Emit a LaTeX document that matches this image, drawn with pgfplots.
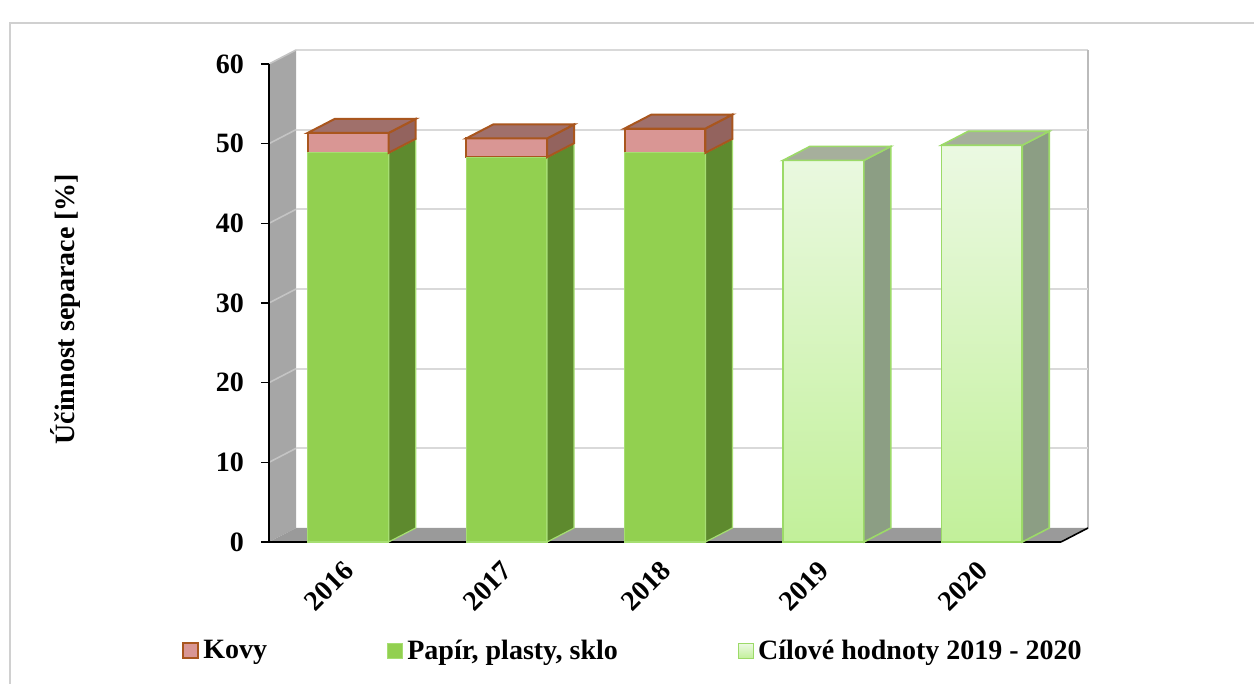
\documentclass[border=0pt]{standalone}
\usepackage{fontspec}
\setmainfont{Liberation Serif}
\usepackage{pgfplots}
\pgfplotsset{compat=1.18}
\definecolor{greenF}{HTML}{92D050}
\definecolor{greenS}{HTML}{5E8A2E}
\definecolor{greenE}{HTML}{A6DE72}
\definecolor{pinkF}{HTML}{D99694}
\definecolor{pinkS}{HTML}{93635E}
\definecolor{pinkT}{HTML}{A0706B}
\definecolor{brownE}{HTML}{A9561E}
\definecolor{tgtTop}{HTML}{EBF9E2}
\definecolor{tgtBot}{HTML}{C2F09A}
\definecolor{tgtE}{HTML}{9CDA68}
\definecolor{tgtS}{HTML}{8C9E84}
\definecolor{tgtT}{HTML}{A6AF9C}
\definecolor{wallC}{HTML}{A6A6A6}
\definecolor{floorC}{HTML}{9A9A9A}
\definecolor{gridC}{HTML}{D9D9D9}
\definecolor{sgridC}{HTML}{C4C4C4}
\definecolor{borderC}{HTML}{D0D0D0}
\newcommand{\cf}{\fontsize{14}{16.8}\selectfont\bfseries}
\begin{document}
\begin{tikzpicture}
\useasboundingbox (0,0) rectangle (627pt,342pt);
\draw[color=borderC, line width=1pt] (5pt,-20pt) rectangle (660pt,330.5pt);
\pgfplotsset{base/.style={at={(134.5pt,71pt)}, anchor=south west, scale only axis,
  width=396pt, height=239pt, xmin=-0.5, xmax=4.5, ymin=0, ymax=60, clip=false}}
% ---------- background: walls, floor, grid
\begin{axis}[base, hide axis]
\addplot[fill=white, draw=none] coordinates {(-0.3295,1.757) (4.6705,1.757) (4.6705,61.757) (-0.3295,61.757)} -- cycle;
\addplot[fill=wallC, draw=none] coordinates {(-0.5,0) (-0.3295,1.757) (-0.3295,61.757) (-0.5,60)} -- cycle;
\addplot[fill=floorC, draw=none] coordinates {(-0.5,0) (4.5,0) (4.6705,1.757) (-0.3295,1.757)} -- cycle;
\addplot[draw=gridC, line width=0.9pt] coordinates {(-0.3295,61.757) (4.6705,61.757)};
\addplot[draw=borderC!90!black, line width=1.4pt] coordinates {(4.6705,1.757) (4.6705,61.757)};
\addplot[draw=gridC, line width=0.9pt] coordinates {(-0.3295,11.757) (4.6705,11.757)};
\addplot[draw=gridC, line width=0.9pt] coordinates {(-0.3295,21.757) (4.6705,21.757)};
\addplot[draw=gridC, line width=0.9pt] coordinates {(-0.3295,31.757) (4.6705,31.757)};
\addplot[draw=gridC, line width=0.9pt] coordinates {(-0.3295,41.757) (4.6705,41.757)};
\addplot[draw=gridC, line width=0.9pt] coordinates {(-0.3295,51.757) (4.6705,51.757)};
\addplot[draw=sgridC, line width=0.8pt] coordinates {(-0.5,10) (-0.3295,11.757)};
\addplot[draw=sgridC, line width=0.8pt] coordinates {(-0.5,20) (-0.3295,21.757)};
\addplot[draw=sgridC, line width=0.8pt] coordinates {(-0.5,30) (-0.3295,31.757)};
\addplot[draw=sgridC, line width=0.8pt] coordinates {(-0.5,40) (-0.3295,41.757)};
\addplot[draw=sgridC, line width=0.8pt] coordinates {(-0.5,50) (-0.3295,51.757)};
\addplot[draw=sgridC, line width=0.8pt] coordinates {(-0.5,60) (-0.3295,61.757)};
\end{axis}
% ---------- main axis: front faces of the bars
\begin{axis}[base,
  ybar stacked, bar width=0.511,
  axis lines*=left, axis line style={black, line width=0.8pt},
  tick align=outside, tick style={black, line width=0.8pt}, major tick length=4pt,
  ytick={0,10,...,60},
  xtick={0,1,2,3,4}, xticklabels={2016,2017,2018,2019,2020},
  x tick style={draw=none},
  extra x ticks={-0.5,0.5,1.5,2.5,3.5,4.5}, extra x tick labels={},
  extra x tick style={tick style={black, line width=0.8pt}, major tick length=4pt},
  /pgf/number format/assume math mode=true,
  tick label style={font=\cf},
  yticklabel style={xshift=-5pt},
  xticklabel style={rotate=45, anchor=east, xshift=-2pt, yshift=-6pt},
  ylabel={Účinnost separace [\%]},
  ylabel style={font=\cf, at={(axis description cs:-0.2576,0.487)}, anchor=center},
  legend image code/.code={\draw[#1] (0pt,-3.75pt) rectangle (7.5pt,3.75pt);},
  legend style={at={(axis description cs:0.4609,-0.228)}, anchor=center, draw=none, fill=none,
    legend columns=3, font=\cf, /tikz/every even column/.append style={column sep=58pt}},
]
\addlegendimage{fill=pinkF, draw=brownE, line width=1pt}
\addlegendentry{Kovy}
\addlegendimage{fill=greenF, draw=greenE, line width=0.6pt}
\addlegendentry{Papír, plasty, sklo}
\addlegendimage{top color=tgtTop, bottom color=tgtBot, draw=tgtE, line width=0.6pt}
\addlegendentry{Cílové hodnoty 2019 - 2020}
% Papír, plasty, sklo
\addplot[forget plot, fill=greenF, draw=greenE, line width=0.6pt] coordinates {(0,48.85) (1,48.3) (2,48.85) (3,0) (4,0)};
% Kovy
\addplot[forget plot, fill=pinkF, draw=brownE, line width=1pt] coordinates {(0,2.5) (1,2.35) (2,3.05) (3,0) (4,0)};
% Cílové hodnoty 2019 - 2020
\addplot[forget plot, top color=tgtTop, bottom color=tgtBot, draw=tgtE, line width=0.8pt] coordinates {(0,0) (1,0) (2,0) (3,47.9) (4,49.8)};
\end{axis}
% ---------- 3D side and top faces
\begin{axis}[base, hide axis]
\addplot[fill=greenS, draw=greenE, line width=0.6pt] coordinates {(0.2555,0) (0.426,1.757) (0.426,50.607) (0.2555,48.85)} -- cycle;
\addplot[fill=greenS, draw=greenE, line width=0.6pt] coordinates {(1.2555,0) (1.426,1.757) (1.426,50.057) (1.2555,48.3)} -- cycle;
\addplot[fill=greenS, draw=greenE, line width=0.6pt] coordinates {(2.2555,0) (2.426,1.757) (2.426,50.607) (2.2555,48.85)} -- cycle;
\addplot[fill=pinkS, draw=brownE, line width=1pt] coordinates {(0.2555,48.85) (0.426,50.607) (0.426,53.107) (0.2555,51.35)} -- cycle;
\addplot[fill=pinkS, draw=brownE, line width=1pt] coordinates {(1.2555,48.3) (1.426,50.057) (1.426,52.407) (1.2555,50.65)} -- cycle;
\addplot[fill=pinkS, draw=brownE, line width=1pt] coordinates {(2.2555,48.85) (2.426,50.607) (2.426,53.657) (2.2555,51.9)} -- cycle;
\addplot[fill=pinkT, draw=brownE, line width=1pt] coordinates {(-0.2555,51.35) (0.2555,51.35) (0.426,53.107) (-0.085,53.107)} -- cycle;
\addplot[fill=pinkT, draw=brownE, line width=1pt] coordinates {(0.7445,50.65) (1.2555,50.65) (1.426,52.407) (0.915,52.407)} -- cycle;
\addplot[fill=pinkT, draw=brownE, line width=1pt] coordinates {(1.7445,51.9) (2.2555,51.9) (2.426,53.657) (1.915,53.657)} -- cycle;
\addplot[fill=tgtS, draw=tgtE, line width=0.8pt] coordinates {(3.2555,0) (3.426,1.757) (3.426,49.657) (3.2555,47.9)} -- cycle;
\addplot[fill=tgtS, draw=tgtE, line width=0.8pt] coordinates {(4.2555,0) (4.426,1.757) (4.426,51.557) (4.2555,49.8)} -- cycle;
\addplot[fill=tgtT, draw=tgtE, line width=0.8pt] coordinates {(2.7445,47.9) (3.2555,47.9) (3.426,49.657) (2.915,49.657)} -- cycle;
\addplot[fill=tgtT, draw=tgtE, line width=0.8pt] coordinates {(3.7445,49.8) (4.2555,49.8) (4.426,51.557) (3.915,51.557)} -- cycle;
\addplot[draw=black, line width=0.8pt] coordinates {(4.5,0) (4.6705,1.757)};
\end{axis}
\end{tikzpicture}
\end{document}
